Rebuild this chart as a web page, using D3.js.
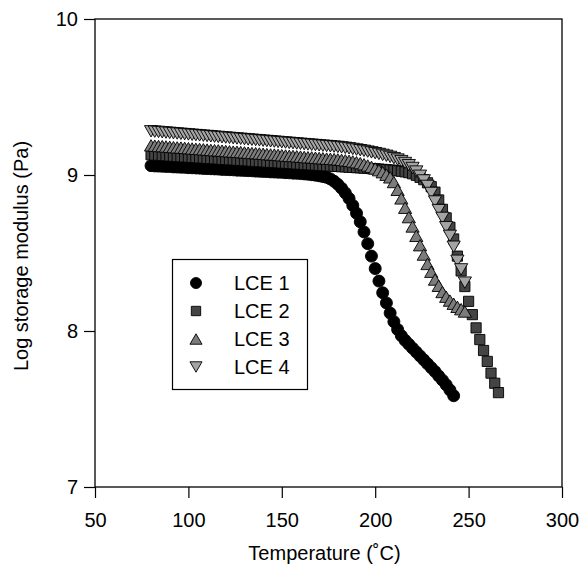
<!DOCTYPE html>
<html>
<head>
<meta charset="utf-8">
<script src="https://cdn.jsdelivr.net/npm/d3@7"></script>
<style>
  body { margin: 0; background: #fff; }
  svg { display: block; }
  text { font-family: "Liberation Sans", Arial, Helvetica, sans-serif; fill: #000; }
</style>
</head>
<body>
<svg id="chart" width="579" height="569"></svg>
<script>
// Temperature grid (°C) shared by all four samples
const temps = [80,82,84,86,88,90,92,94,96,98,100,102,104,106,108,110,112,114,116,118,
  120,122,124,126,128,130,132,134,136,138,140,142,144,146,148,150,152,154,156,158,
  160,162,164,166,168,170,172,174,176,178,180,182,184,186,188,190,192,194,196,198,
  200,202,204,206,208,210,212,214,216,218,220,222,224,226,228,230,232,234,236,238,
  240,242,244,246,248,250,252,254,256,258,260,262,264,266];

// Log storage modulus (Pa) per sample, one value per temperature step
const lce1 = [9.060,9.058,9.057,9.056,9.055,9.054,9.052,9.051,9.050,9.049,
  9.047,9.046,9.045,9.044,9.042,9.041,9.040,9.039,9.038,9.036,
  9.035,9.034,9.033,9.031,9.030,9.029,9.028,9.027,9.025,9.024,
  9.023,9.022,9.020,9.019,9.018,9.017,9.015,9.014,9.012,9.011,
  9.009,9.007,9.005,9.002,8.999,8.995,8.990,8.985,8.975,8.960,
  8.940,8.915,8.885,8.850,8.805,8.755,8.700,8.635,8.560,8.480,
  8.400,8.320,8.245,8.180,8.115,8.060,8.010,7.970,7.940,7.915,
  7.890,7.865,7.840,7.815,7.790,7.765,7.740,7.712,7.685,7.655,
  7.622,7.585];

const lce2 = [9.130,9.128,9.127,9.125,9.124,9.122,9.121,9.119,9.118,9.116,
  9.115,9.113,9.112,9.110,9.109,9.107,9.106,9.104,9.103,9.101,
  9.100,9.098,9.097,9.095,9.094,9.092,9.091,9.089,9.088,9.086,
  9.085,9.083,9.082,9.080,9.079,9.077,9.076,9.074,9.073,9.071,
  9.070,9.068,9.067,9.065,9.064,9.062,9.061,9.059,9.058,9.056,
  9.055,9.053,9.052,9.050,9.049,9.047,9.046,9.044,9.043,9.041,
  9.040,9.038,9.036,9.034,9.032,9.030,9.027,9.024,9.020,9.015,
  9.008,8.998,8.985,8.970,8.950,8.925,8.890,8.840,8.780,8.725,
  8.665,8.590,8.480,8.385,8.285,8.190,8.105,8.020,7.945,7.875,
  7.805,7.730,7.665,7.605];

const lce3 = [9.190,9.188,9.186,9.185,9.183,9.181,9.179,9.177,9.176,9.174,
  9.172,9.170,9.168,9.167,9.165,9.163,9.161,9.159,9.158,9.156,
  9.154,9.152,9.150,9.149,9.147,9.145,9.143,9.141,9.140,9.138,
  9.136,9.134,9.132,9.131,9.129,9.127,9.125,9.123,9.122,9.120,
  9.118,9.116,9.114,9.113,9.111,9.109,9.107,9.105,9.104,9.102,
  9.100,9.097,9.094,9.091,9.087,9.082,9.076,9.069,9.061,9.052,
  9.042,9.031,9.018,9.002,8.985,8.955,8.905,8.850,8.790,8.730,
  8.670,8.610,8.550,8.490,8.430,8.380,8.330,8.290,8.250,8.220,
  8.195,8.175,8.155,8.140,8.125];

const lce4 = [9.280,9.278,9.276,9.274,9.272,9.270,9.268,9.266,9.264,9.262,
  9.260,9.258,9.256,9.254,9.252,9.250,9.248,9.246,9.244,9.242,
  9.240,9.238,9.236,9.234,9.232,9.230,9.228,9.226,9.224,9.222,
  9.220,9.218,9.216,9.214,9.212,9.210,9.208,9.206,9.204,9.202,
  9.200,9.198,9.196,9.194,9.192,9.190,9.188,9.186,9.184,9.182,
  9.180,9.177,9.174,9.171,9.167,9.163,9.159,9.155,9.150,9.145,
  9.140,9.135,9.129,9.123,9.116,9.108,9.099,9.089,9.077,9.063,
  9.045,9.022,8.995,8.965,8.930,8.885,8.830,8.775,8.725,8.665,
  8.610,8.540,8.450,8.395,8.310];

const seriesNames = ["LCE 1", "LCE 2", "LCE 3", "LCE 4"];
const xTicks = [50, 100, 150, 200, 250, 300];
const yTicks = [7, 8, 9, 10];

// Marker styling per sample
const markerKinds = ["circle", "square", "triangleUp", "triangleDown"];
const markerFills = ["#000000", "#444444", "#7c7c7c", "#a4a4a4"];

const seriesValues = [lce1, lce2, lce3, lce4];
const series = seriesNames.map((name, i) => ({
  name,
  kind: markerKinds[i],
  fill: markerFills[i],
  points: seriesValues[i].map((v, j) => ({ t: temps[j], v }))
}));

const svg = d3.select("#chart");
const plotLeft = 95, plotRight = 562, plotTop = 19, plotBottom = 487;

const x = d3.scaleLinear().domain([50, 300]).range([plotLeft, plotRight]);
const y = d3.scaleLinear().domain([7, 10]).range([plotBottom, plotTop]);

// Marker path generators, centred on the origin
function markerPath(kind, s) {
  if (kind === "circle") return d3.symbol(d3.symbolCircle, Math.PI * s * s)();
  if (kind === "square") return d3.symbol(d3.symbolSquare, (1.7 * s) * (1.7 * s))();
  const w = s * 1.1, h = s * 0.95;
  if (kind === "triangleUp") return `M0,${-h}L${w},${h}L${-w},${h}Z`;
  return `M0,${h}L${w},${-h}L${-w},${-h}Z`;
}

// Axes
const xAxis = d3.axisBottom(x).tickValues(xTicks).tickFormat(d3.format("d"))
  .tickSize(11).tickSizeOuter(0).tickPadding(15);
const yAxis = d3.axisLeft(y).tickValues(yTicks).tickFormat(d3.format("d"))
  .tickSize(11).tickSizeOuter(0).tickPadding(6);

const gx = svg.append("g").attr("transform", `translate(0,${plotBottom})`).call(xAxis);
const gy = svg.append("g").attr("transform", `translate(${plotLeft},0)`).call(yAxis);
[gx, gy].forEach(g => {
  g.select(".domain").remove();
  g.selectAll(".tick line").attr("stroke", "#000").attr("stroke-width", 1.2);
  g.selectAll(".tick text").attr("font-size", 20).attr("fill", "#000")
    .style("font-family", "'Liberation Sans', Arial, sans-serif");
});

// Plot frame
svg.append("rect")
  .attr("x", plotLeft).attr("y", plotTop)
  .attr("width", plotRight - plotLeft).attr("height", plotBottom - plotTop)
  .attr("fill", "none").attr("stroke", "#000").attr("stroke-width", 1.3);

// Data markers
const plot = svg.append("g");
series.forEach(s => {
  plot.append("g").selectAll("path")
    .data(s.points)
    .join("path")
    .attr("d", markerPath(s.kind, 6))
    .attr("transform", d => `translate(${x(d.t)},${y(d.v)})`)
    .attr("fill", s.fill)
    .attr("stroke", "#000")
    .attr("stroke-width", 0.9);
});

// Axis titles
svg.append("text")
  .attr("x", (plotLeft + plotRight) / 2 - 4).attr("y", 560)
  .attr("text-anchor", "middle").attr("font-size", 20)
  .text("Temperature (˚C)");

svg.append("text")
  .attr("transform", `translate(28,${(plotTop + plotBottom) / 2 + 3}) rotate(-90)`)
  .attr("text-anchor", "middle").attr("font-size", 20)
  .text("Log storage modulus (Pa)");

// Legend
const legend = svg.append("g");
legend.append("rect")
  .attr("x", 172.5).attr("y", 259.5).attr("width", 135).attr("height", 130)
  .attr("fill", "#fff").attr("stroke", "#000").attr("stroke-width", 1.2);
const legendRows = [283, 311, 339, 367];
series.forEach((s, i) => {
  legend.append("path")
    .attr("d", markerPath(s.kind, 5.5))
    .attr("transform", `translate(196,${legendRows[i]})`)
    .attr("fill", s.fill).attr("stroke", "#000").attr("stroke-width", 0.9);
  legend.append("text")
    .attr("x", 234).attr("y", legendRows[i]).attr("dy", "0.36em")
    .attr("font-size", 20)
    .text(s.name);
});
</script>
</body>
</html>
